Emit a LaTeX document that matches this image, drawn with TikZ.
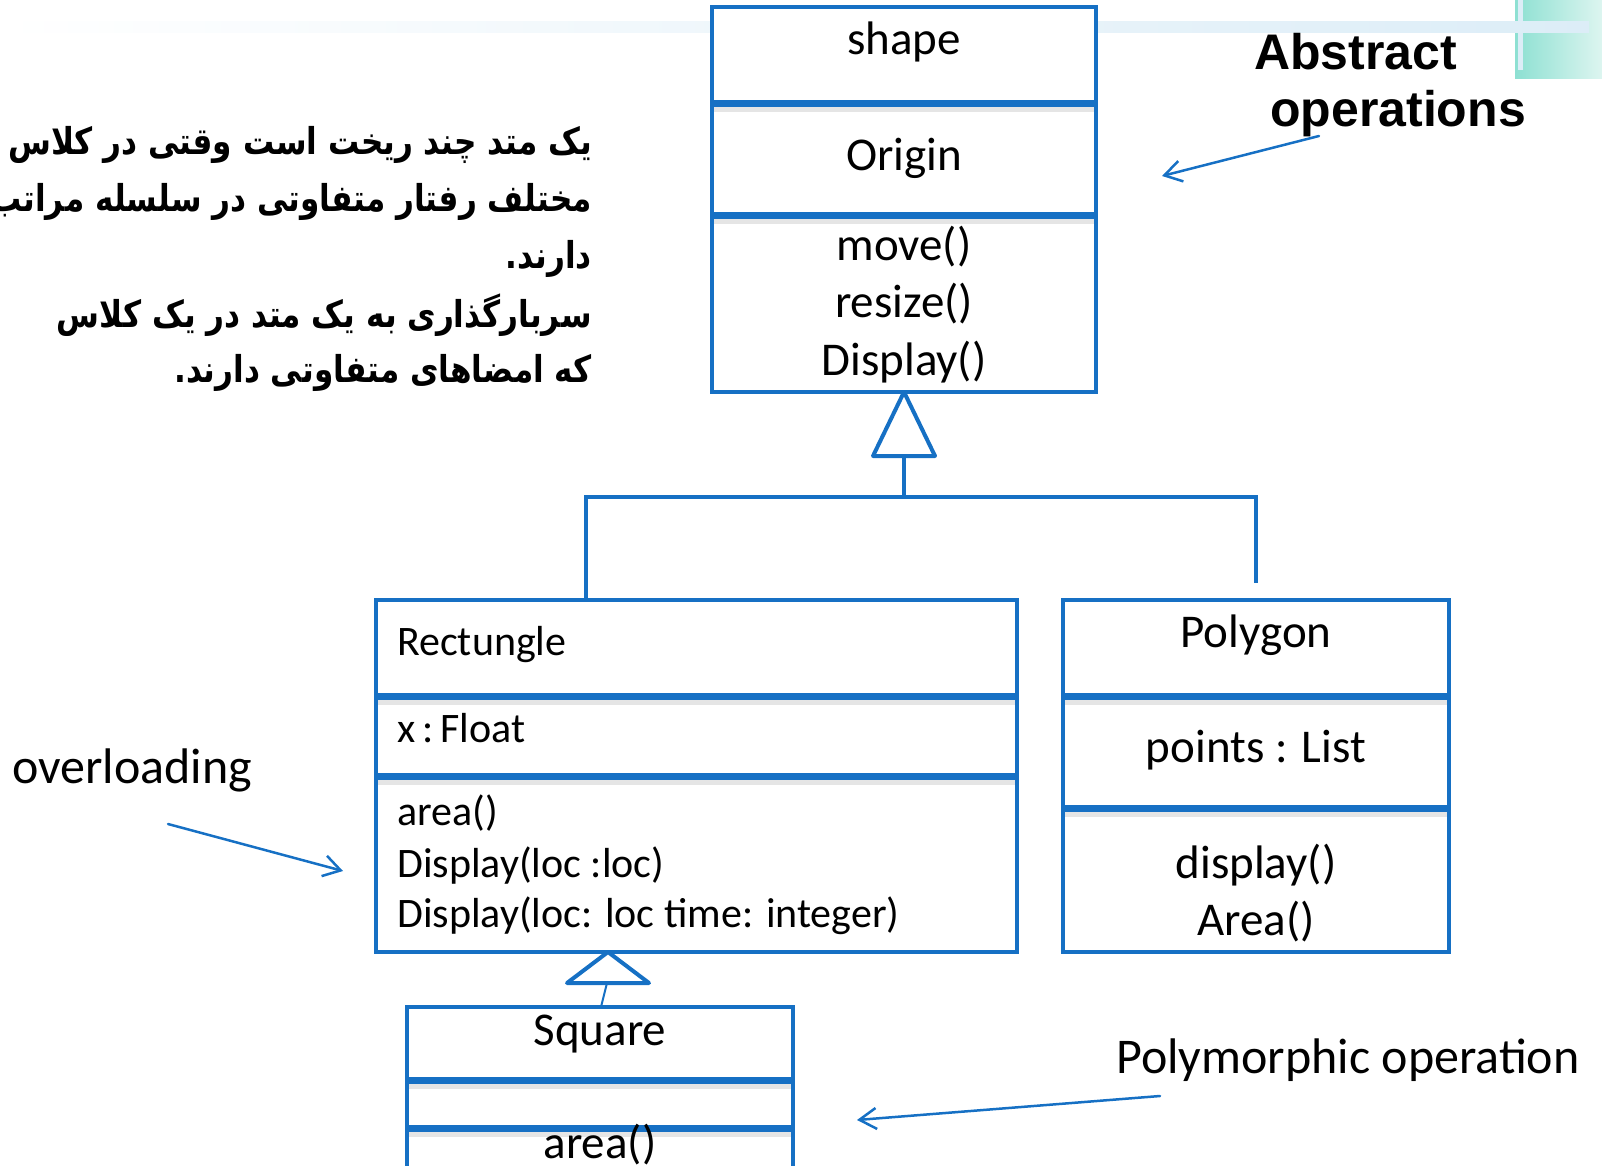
\documentclass[tikz,border=0pt]{standalone}
\usepackage{fontspec}
\usetikzlibrary{arrows.meta,calc,positioning}
\setmainfont{Carlito}
\newfontfamily\headfont{Liberation Sans}
\newfontfamily\arabicfont[Script=Arabic]{DejaVu Sans}
\TeXXeTstate=1
\definecolor{umlBlue}{HTML}{1670C4}
\definecolor{bandBlue}{HTML}{DCEDF7}
\definecolor{tealTop}{HTML}{8DE0D2}
\definecolor{tealFade}{HTML}{DDF5F0}
\tikzset{
 uml/.style={line join=miter,text=black},
 classbox/.style={rectangle,draw=umlBlue,fill=white,line width=4pt,anchor=north west,
   inner sep=0pt,outer sep=0pt},
 divider/.style={draw=umlBlue,line width=7pt},
 dividershadow/.style={draw=black,opacity=.10,line width=5pt},
 genhead/.style={draw=umlBlue,fill=white,line width=4pt,line join=round},
 link/.style={draw=umlBlue,line width=4.5pt},
 thinlink/.style={draw=umlBlue,line width=2pt},
 pointer/.style={draw=umlBlue,line width=2.5pt,line cap=round,
   -{Straight Barb[length=17pt,width=21pt,line width=2.5pt]}},
 member/.style={font=\fontsize{47}{57}\selectfont,anchor=base,inner sep=0pt},
 rmember/.style={font=\fontsize{42}{51}\selectfont,anchor=base west,inner sep=0pt},
 remark/.style={font=\fontsize{50}{60}\selectfont,anchor=base west,inner sep=0pt},
 headline/.style={font=\headfont\bfseries\fontsize{50}{57}\selectfont,anchor=base west,inner sep=0pt},
 farsi/.style={font=\arabicfont\bfseries\fontsize{37}{57}\selectfont,anchor=base east,inner sep=0pt}
}
\newcommand{\umlDivider}[2]{%
 \draw[dividershadow] ($(#1.north west)+(2,#2+6)$) -- ($(#1.north east)+(-2,#2+6)$);
 \draw[divider] ($(#1.north west)+(0,#2)$) -- ($(#1.north east)+(0,#2)$);}
\newcommand{\farsiText}[1]{\scalebox{.84}[1]{\beginR #1\endR}}

\begin{document}
\begin{tikzpicture}[uml,x=1pt,y=-1pt]
 \useasboundingbox (0,0) rectangle (1602,1166);
 % slide decoration
 \fill[left color=tealTop,right color=tealFade] (1515,0) rectangle (1602,79);
 \fill[bandBlue] (1518,0) rectangle (1523,70);
 \fill[left color=white,right color=bandBlue] (0,22) rectangle (1589,33);

 % classes
 \node[classbox,minimum width=384pt,minimum height=385pt] (shapeBox) at (712,7) {};
 \node[classbox,minimum width=641pt,minimum height=352pt] (rectBox) at (376,600) {};
 \node[classbox,minimum width=386pt,minimum height=352pt] (polyBox) at (1063,600) {};
 \node[classbox,minimum width=386pt,minimum height=168pt] (squareBox) at (407,1007) {};
 \umlDivider{shapeBox}{97} \umlDivider{shapeBox}{209}
 \umlDivider{rectBox}{96} \umlDivider{rectBox}{176}
 \umlDivider{polyBox}{96} \umlDivider{polyBox}{208}
 \umlDivider{squareBox}{73} \umlDivider{squareBox}{121}

 \node[member] (shapeName) at (904,55) {shape};
 \node[member] (shapeAttr) at (904,171) {Origin};
 \foreach \op/\yy in {move()/260,resize()/317,Display()/375}
   \node[member] at (904,\yy) {\op};
 \node[rmember] (rectName) at (397,655) {Rectungle};
 \node[rmember] (rectAttr) at (397,742) {x\,:\,Float};
 \foreach \op/\yy in {area()/825,Display(loc :loc)/877,Display(loc: loc time: integer)/927}
   \node[rmember] at (397,\yy) {\op};
 \node[member] (polyName) at (1256,647) {Polygon};
 \node[member] (polyAttr) at (1256,762) {points : List};
 \node[member] (polyOpA) at (1256,878) {display()};
 \node[member] (polyOpB) at (1256,935) {Area()};
 \node[member] (squareName) at (600,1045) {Square};
 \node[member] (squareOp) at (600,1158) {area()};

 % generalisation
 \coordinate (stemTop) at ($(shapeBox.south)+(0,64)$);
 \coordinate (bus) at (904,497);
 \coordinate (rectTap) at (586,600);
 \coordinate (polyTap) at (1256,583);
 \draw[link] (stemTop) -- (bus);
 \draw[link] (rectTap) |- (bus) -| (polyTap);
 \draw[genhead] (shapeBox.south) -- ++(-31,64) -- ++(62,0) -- cycle;
 \coordinate (subTip) at (608,952);
 \draw[thinlink] ($(subTip)+(-1,31)$) -- ($(squareBox.north west)+(194,0)$);
 \draw[genhead] (subTip) -- ++(-41,31) -- ++(82,0) -- cycle;

 % notes
 \node[headline] (abstractA) at (1254,70) {Abstract};
 \node[headline] (abstractB) at (1270,127) {operations};
 \node[remark] (overNote) at (12,783) {overloading};
 \node[remark] (polyNote) at (1116,1073) {Polymorphic operation};
 \coordinate (abstractFrom) at (1319,136); \coordinate (abstractTo) at (1162,176);
 \coordinate (overFrom) at (168,824); \coordinate (overTo) at (343,871);
 \coordinate (polyFrom) at (1160,1096); \coordinate (polyTo) at (857,1120);
 \draw[pointer] (abstractFrom) -- (abstractTo);
 \draw[pointer] (overFrom) -- (overTo);
 \draw[pointer] (polyFrom) -- (polyTo);

 \node[farsi] (farsiA) at (592,155) {\farsiText{یک متد چند ریخت است وقتی در کلاس}};
 \node[farsi] (farsiB) at (592,212) {\farsiText{مختلف رفتار متفاوتی در سلسله مراتب}};
 \node[farsi] (farsiC) at (592,268) {\farsiText{دارند.}};
 \node[farsi] (farsiD) at (592,327) {\farsiText{سربارگذاری به یک متد در یک کلاس}};
 \node[farsi] (farsiE) at (592,382) {\farsiText{که امضاهای متفاوتی دارند.}};
\end{tikzpicture}
\end{document}
